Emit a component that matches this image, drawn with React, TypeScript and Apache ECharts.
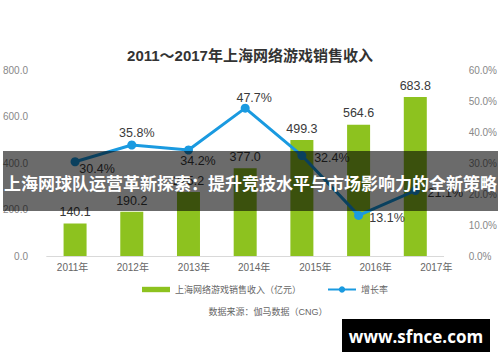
import React, { useEffect, useRef } from "react";
import * as echarts from "echarts";

const years = ["2011年", "2012年", "2013年", "2014年", "2015年", "2016年", "2017年"];
const revenue = [140.1, 190.2, 275.2, 377.0, 499.3, 564.6, 683.8];
const growth = [30.4, 35.8, 34.2, 47.7, 32.4, 13.1, 21.1];
const leftTicks = { min: 0, max: 800, interval: 200 };
const rightTicks = { min: 0, max: 60, interval: 10 };

const titleText = "2011～2017年上海网络游戏销售收入";
const barName = "上海网络游戏销售收入（亿元）";
const lineName = "增长率";
const sourceText = "数据来源：伽马数据（CNG）";
const bannerText = "上海网球队运营革新探索：提升竞技水平与市场影响力的全新策略";
const watermarkText = "www.sfnce.com";

// styling only: horizontal shift of x labels and label offsets for line points
const xLabelShift = [-2.5, 1, 5.5, 9, 13.5, 17, 21];
const lineLabelOffsets: [number, number][] = [
  [22, 7], [5, -12], [9.5, 11], [9, -10], [30, 2], [28.5, 3], [30, 2],
];

const FONT = "'Liberation Sans', 'Noto Sans CJK SC', sans-serif";

export default function App() {
  const ref = useRef<HTMLDivElement>(null);
  useEffect(() => {
    document.body.style.margin = "0";
    const chart = echarts.init(ref.current!, null, { renderer: "svg" });
    const rich: Record<string, any> = {};
    xLabelShift.forEach((s, i) => {
      rich["l" + i] = {
        fontSize: 10,
        color: "#666",
        fontFamily: FONT,
        padding: [0, s < 0 ? -2 * s : 0, 0, s > 0 ? 2 * s : 0],
      };
    });
    chart.setOption({
      animation: false,
      backgroundColor: "#fff",
      textStyle: { fontFamily: FONT },
      title: {
        text: titleText,
        left: "center",
        top: 43,
        textStyle: { fontSize: 15, fontWeight: "bold", color: "#333", fontFamily: FONT },
      },
      legend: {
        left: 137,
        top: 280,
        itemWidth: 28,
        itemHeight: 8,
        itemGap: 26,
        textStyle: { fontSize: 9, color: "#666", fontFamily: FONT },
        data: [
          { name: barName, icon: "path://M0,0h26v5h-26z" },
          { name: lineName },
        ],
      },
      grid: { left: 43.7, right: 53, top: 70, bottom: 106, containLabel: false },
      xAxis: {
        type: "category",
        data: years,
        axisLine: { lineStyle: { color: "#d9d9d9", width: 1 } },
        axisTick: { show: false },
        axisLabel: {
          interval: 0,
          margin: 6,
          formatter: (v: string, i: number) => `{l${i}|${v}}`,
          rich,
        },
      },
      yAxis: [
        {
          type: "value",
          ...leftTicks,
          axisLine: { show: false },
          axisTick: { show: false },
          splitLine: { show: false },
          axisLabel: {
            margin: 18.7,
            fontSize: 10,
            color: "#888",
            formatter: (v: number) => v.toFixed(1),
          },
        },
        {
          type: "value",
          ...rightTicks,
          axisLine: { show: false },
          axisTick: { show: false },
          splitLine: { show: false },
          axisLabel: {
            margin: 25,
            fontSize: 10,
            color: "#888",
            formatter: (v: number) => v.toFixed(1) + "%",
          },
        },
      ],
      series: [
        {
          name: barName,
          type: "bar",
          data: revenue,
          barWidth: 23,
          itemStyle: { color: "#8dc21f" },
          label: {
            show: true,
            position: "top",
            distance: 5,
            fontSize: 12.5,
            color: "#3a3a3a",
            formatter: (p: any) => p.value.toFixed(1),
          },
          z: 2,
        },
        {
          name: lineName,
          type: "line",
          yAxisIndex: 1,
          data: growth.map((v, i) => ({
            value: v,
            label: { offset: lineLabelOffsets[i] },
          })),
          symbol: "circle",
          symbolSize: 9,
          lineStyle: { color: "#1a9ae0", width: 3 },
          itemStyle: { color: "#1a9ae0" },
          label: {
            show: true,
            position: "inside",
            fontSize: 12.5,
            color: "#3a3a3a",
            formatter: (p: any) => p.value.toFixed(1) + "%",
          },
          z: 3,
        },
      ],
      graphic: [
        {
          type: "text",
          x: 268,
          y: 312,
          style: {
            text: sourceText,
            fontSize: 9,
            fill: "#666",
            align: "center",
            verticalAlign: "middle",
            fontFamily: FONT,
          },
        },
        {
          type: "rect",
          z: 100,
          shape: { x: 3, y: 151, width: 495, height: 60 },
          style: { fill: "rgba(0,0,0,0.58)" },
        },
        {
          type: "text",
          z: 101,
          x: 4,
          y: 182,
          style: {
            text: bannerText,
            fontSize: 17,
            fontWeight: "bold",
            fill: "#fff",
            verticalAlign: "middle",
            fontFamily: "'Noto Sans CJK SC', sans-serif",
          },
        },
        {
          type: "rect",
          z: 100,
          shape: { x: 342, y: 319, width: 148, height: 33 },
          style: { fill: "#000" },
        },
        {
          type: "text",
          z: 101,
          x: 416,
          y: 336,
          style: {
            text: watermarkText,
            fontSize: 17,
            fontWeight: "bold",
            fill: "#fff",
            align: "center",
            verticalAlign: "middle",
            fontFamily: "'Open Sans', sans-serif",
          },
        },
      ],
    });
    return () => chart.dispose();
  }, []);
  return <div ref={ref} style={{ width: 500, height: 362 }} />;
}
